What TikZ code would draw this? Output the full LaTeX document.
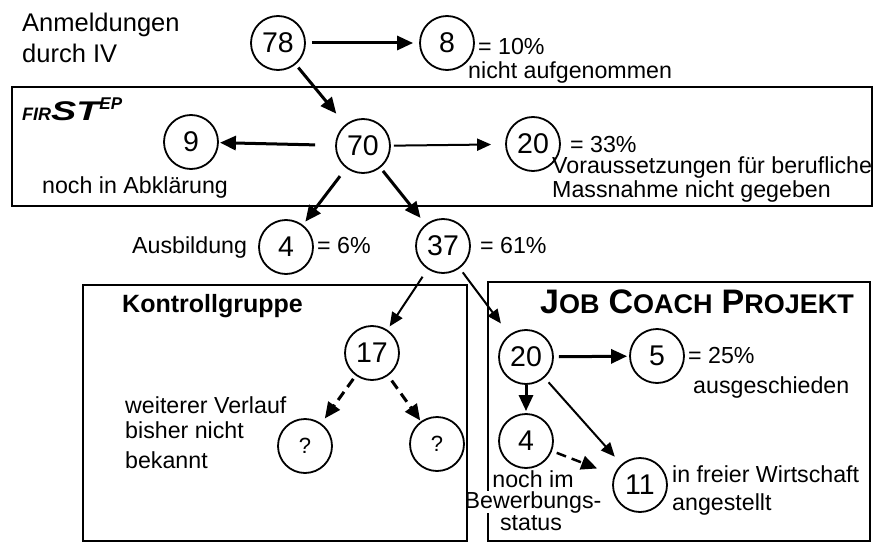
\documentclass[tikz,border=0pt]{standalone}
\usepackage{fontspec}
\setmainfont{Liberation Sans}
\usetikzlibrary{arrows.meta}
\begin{document}
\begin{tikzpicture}[x=1pt,y=-1pt,
  circ/.style={circle,draw,line width=1.8pt,minimum size=54pt,inner sep=0pt,font=\fontsize{28.5}{30}\selectfont},
  qcirc/.style={circ,font=\fontsize{22}{24}\selectfont},
  lbl/.style={anchor=base west,inner sep=0pt,font=\fontsize{23.2}{27}\selectfont},
  clbl/.style={lbl,anchor=base},
  boxline/.style={draw,line width=2.6pt},
  thickarr/.style={line width=3pt,-{Triangle[length=16pt,width=14pt]}},
  thinarr/.style={line width=2pt,-{Triangle[length=14pt,width=12pt]}},
  dasharr/.style={thickarr,dash pattern=on 10pt off 6pt},
]
\useasboundingbox (0,0) rectangle (873,543);

% boxes
\draw[boxline] (12,87) rectangle (872,206);
\draw[boxline] (488,282) rectangle (870,541);

% circles
\node[circ] (n78) at (278,43) {78};
\node[circ] (n8) at (447,43) {8};
\node[circ] (n70) at (363,146) {70};
\node[circ] (n9) at (191,142) {9};
\node[circ] (n20a) at (533,144) {20};
\node[circ] (n4a) at (286,247) {4};
\node[circ] (n37) at (443,246) {37};
\node[circ] (n17) at (372,353) {17};
\node[qcirc] (nqL) at (305,446) {?};
\node[qcirc] (nqR) at (437,444) {?};
\node[circ] (n20) at (526,357) {20};
\node[circ] (n5) at (657,356) {5};
\node[circ] (n4) at (526,441) {4};
\node[circ] (n11) at (640,485) {11};

% texts
\node[lbl,font=\fontsize{25.5}{28}\selectfont] (t1) at (22,32) {Anmeldungen};
\node[lbl,font=\fontsize{25.5}{28}\selectfont] (t2) at (22,63) {durch IV};
\node[lbl] (t3) at (478,55) {= 10\%};
\node[lbl] (t4) at (468,78) {nicht aufgenommen};
\node[anchor=base west,inner sep=0pt] (fs) at (22,121) {\bfseries\itshape\fontsize{18}{18}\selectfont FIR\fontsize{27}{27}\selectfont\scalebox{1.4}[1]{ST}\raisebox{12pt}{\fontsize{17}{17}\selectfont EP}};
\node[lbl] (t5) at (42,193) {noch in Abklärung};
\node[lbl] (t6) at (570,152) {= 33\%};
\node[lbl] (t7) at (552,173) {Voraussetzungen für berufliche};
\node[lbl] (t8) at (552,197) {Massnahme nicht gegeben};
\node[lbl] (t9) at (132,253) {Ausbildung};
\node[lbl] (t10) at (317,253) {= 6\%};
\node[lbl] (t11) at (480,253) {= 61\%};
\node[lbl,font=\fontsize{25}{28}\selectfont\bfseries] (t12) at (122,312) {Kontrollgruppe};
\node[anchor=base west,inner sep=0pt] (t13) at (540,313) {\bfseries{\fontsize{34}{34}\selectfont J}{\fontsize{27}{27}\selectfont OB}\hspace{9pt}{\fontsize{34}{34}\selectfont C}{\fontsize{27}{27}\selectfont OACH}\hspace{9pt}{\fontsize{34}{34}\selectfont P}{\fontsize{27}{27}\selectfont ROJEKT}};
\node[lbl] (t14) at (125,413) {weiterer Verlauf};
\node[lbl] (t15) at (125,438) {bisher nicht};
\node[lbl] (t16) at (125,468) {bekannt};
\node[lbl] (t17) at (688,363) {= 25\%};
\node[lbl] (t18) at (693,393) {ausgeschieden};
\node[clbl] (t19) at (533,487) {noch im};
\node[clbl,fill=white] (t20) at (533,508) {Bewerbungs-};
\node[clbl] (t21) at (531,530) {status};
\node[lbl] (t22) at (672,482) {in freier Wirtschaft};
\node[lbl] (t23) at (672,510) {angestellt};

\draw[boxline] (83,285) rectangle (467,541);

% connectors
\draw[thickarr, shorten <=6pt, shorten >=6pt] (n78) -- (n8);
\draw[thickarr, shorten <=4pt, shorten >=14pt] (n78) -- (n70);
\draw[thickarr, shorten <=20pt, shorten >=1pt] (n70) -- (n9);
\draw[thinarr, shorten <=3pt, shorten >=14pt] (n70) -- (n20a);
\draw[thickarr, shorten <=10pt, shorten >=4pt] (n70) -- (n4a);
\draw[thickarr, shorten <=4pt, shorten >=8pt] (n70) -- (n37);
\draw[thinarr, shorten <=9pt, shorten >=4pt] (n37) -- (n17);
\draw[thinarr, shorten <=5pt, shorten >=14pt] (n37) -- (n20);
\draw[dasharr, shorten <=4pt, shorten >=6pt] (n17) -- (nqL);
\draw[dasharr, shorten <=6pt, shorten >=1pt] (n17) -- (nqR);
\draw[thickarr, shorten <=5pt, shorten >=2pt] (n20) -- (n5);
\draw[thickarr, shorten <=0pt, shorten >=2pt] (n20) -- (n4);
\draw[thinarr, shorten <=6pt, shorten >=10pt] (n20) -- (n11);
\draw[dasharr, line width=2.5pt, shorten <=5pt, shorten >=18pt] (n4) -- (n11);
\end{tikzpicture}
\end{document}
